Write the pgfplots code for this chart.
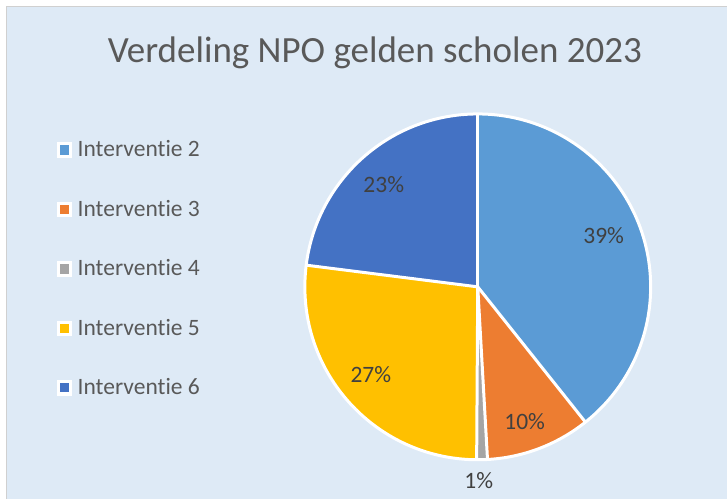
\documentclass[border=0pt]{standalone}
\usepackage{pgfplots}
\pgfplotsset{compat=1.18}
\usepackage{fontspec}
\setmainfont{Carlito}[Ligatures={NoCommon,NoContextual}]

\definecolor{bg}{HTML}{DEEAF6}
\definecolor{edge}{HTML}{D0D0D0}
\definecolor{txt}{HTML}{595959}
\definecolor{lbl}{HTML}{404040}
\definecolor{i2}{HTML}{5B9BD5}
\definecolor{i3}{HTML}{ED7D31}
\definecolor{i4}{HTML}{A5A5A5}
\definecolor{i5}{HTML}{FFC000}
\definecolor{i6}{HTML}{4472C4}

% share of each slice in percent, clockwise from 12 o'clock
\def\piedata{39.3/i2, 9.8/i3, 1.0/i4, 26.9/i5, 23.0/i6}

\begin{document}
\begin{tikzpicture}
\begin{axis}[
  scale only axis, width=727pt, height=499pt,
  xmin=0, xmax=727, ymin=0, ymax=499, y dir=reverse,
  hide axis, clip=false,
]
\fill[white] (axis cs:0,0) rectangle (axis cs:727,499);
\fill[bg] (axis cs:6.5,6.5) rectangle (axis cs:727,499);
\draw[edge, line width=0.8pt] (axis cs:6.5,499) -- (axis cs:6.5,6.5) -- (axis cs:727,6.5);

\node[txt, anchor=base, font=\fontsize{37}{40}\selectfont]
  at (axis cs:375,63) {Verdeling NPO gelden scholen 2023};

\pgfplotsextra{
  \foreach \v/\c [remember=\e as \s (initially 90)] in \piedata {
    \pgfmathsetmacro\e{\s-3.6*\v}
    \fill[\c] (axis cs:478,287) -- ++(\s:173pt)
      arc[start angle=\s, end angle=\e, radius=173pt] -- cycle;
  }
  \foreach \v/\c [remember=\e as \s (initially 90)] in \piedata {
    \pgfmathsetmacro\e{\s-3.6*\v}
    \draw[white, line width=3pt] (axis cs:478,287) -- ++(\s:173pt);
  }
  \draw[white, line width=3pt] (axis cs:478,287) circle[radius=173pt];
}

\foreach \x/\y/\t in {604/236/39\%, 384/185/23\%, 371/375/27\%, 525/422/10\%, 479/481/1\%}
  {\edef\tmp{\noexpand\node[lbl, font=\noexpand\fontsize{23.5}{26}\noexpand\selectfont]
    at (axis cs:\x,\y) {\t};}\tmp}

\foreach \y/\c/\t in {150/i2/2, 209.5/i3/3, 269/i4/4, 328.5/i5/5, 388/i6/6} {
  \edef\tmp{
    \noexpand\fill[white] (axis cs:56.7,\y-7.8) rectangle (axis cs:72.3,\y+7.8);
    \noexpand\fill[\c] (axis cs:60,\y-4.7) rectangle (axis cs:69.4,\y+4.7);
    \noexpand\node[txt, anchor=base west, inner sep=0pt,
      font=\noexpand\fontsize{23.5}{26}\noexpand\selectfont]
      at (axis cs:77.5,\y+7) {Interventie \t};
  }\tmp
}
\end{axis}
\end{tikzpicture}
\end{document}
